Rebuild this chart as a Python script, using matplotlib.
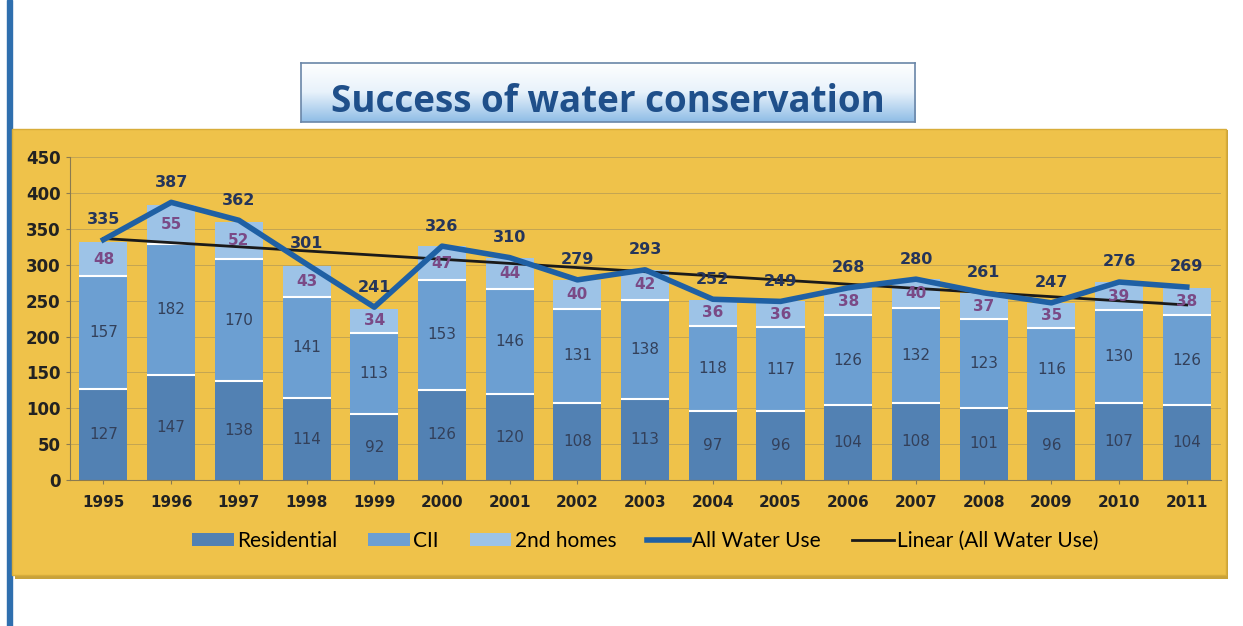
import numpy as np
import matplotlib
matplotlib.use('Agg')
import matplotlib.pyplot as plt
from matplotlib.patches import Rectangle
from matplotlib.colors import LinearSegmentedColormap

years = ['1995', '1996', '1997', '1998', '1999', '2000', '2001', '2002', '2003',
         '2004', '2005', '2006', '2007', '2008', '2009', '2010', '2011']
residential = [127, 147, 138, 114, 92, 126, 120, 108, 113, 97, 96, 104, 108, 101, 96, 107, 104]
cii = [157, 182, 170, 141, 113, 153, 146, 131, 138, 118, 117, 126, 132, 123, 116, 130, 126]
second_homes = [48, 55, 52, 43, 34, 47, 44, 40, 42, 36, 36, 38, 40, 37, 35, 39, 38]
all_water = [335, 387, 362, 301, 241, 326, 310, 279, 293, 252, 249, 268, 280, 261, 247, 276, 269]

yellow = '#efc24a'
c_res = '#5281b3'
c_cii = '#6c9fd2'
c_sec = '#9dc3e7'
c_line = '#1f60a4'

fig = plt.figure(figsize=(12.43, 6.26), dpi=100)
fig.patch.set_facecolor('white')

# slide edge on the left
fig.patches.append(Rectangle((0.006, 0.0), 0.004, 1.0, transform=fig.transFigure,
                             color='#2f6fae', zorder=-2))
# yellow chart panel with a little shadow
fig.patches.append(Rectangle((0.012, 0.075), 0.976, 0.718, transform=fig.transFigure,
                             facecolor='#c9a23a', edgecolor='none', zorder=-2))
fig.patches.append(Rectangle((0.010, 0.082), 0.976, 0.712, transform=fig.transFigure,
                             facecolor=yellow, edgecolor='#d8ad3a', lw=1, zorder=-1))

# title box with gradient
tax = fig.add_axes([0.242, 0.805, 0.494, 0.095])
grad = np.linspace(0, 1, 100).reshape(-1, 1)
cmap = LinearSegmentedColormap.from_list('t', ['#ffffff', '#e8f2fb', '#8fbde6'])
tax.imshow(grad, aspect='auto', cmap=cmap, extent=[0, 1, 0, 1], origin='upper')
tax.set_xticks([])
tax.set_yticks([])
for s in tax.spines.values():
    s.set_color('#6a86a8')
    s.set_linewidth(1.2)
tax.text(0.5, 0.33, 'Success of water conservation', ha='center', va='center',
         fontsize=26.5, fontweight='bold', color='#1f4f8a', family='Open Sans')

ax = fig.add_axes([0.056, 0.233, 0.926, 0.516])
ax.set_facecolor('none')
x = np.arange(len(years))
w = 0.71
res = np.array(residential)
ci = np.array(cii)
sh = np.array(second_homes)
b1 = ax.bar(x, res, w, color=c_res, linewidth=0, label='Residential', zorder=2)
b2 = ax.bar(x, ci, w, bottom=res, color=c_cii, linewidth=0, label='CII', zorder=2)
b3 = ax.bar(x, sh, w, bottom=res + ci, color=c_sec, linewidth=0, label='2nd homes', zorder=2)
# white separators between the stacked segments
ax.hlines(res, x - w / 2, x + w / 2, color='white', lw=1.5, zorder=2.5)
ax.hlines(res + ci, x - w / 2, x + w / 2, color='white', lw=1.5, zorder=2.5)

l1, = ax.plot(x, all_water, color=c_line, lw=4, label='All Water Use', zorder=4)
coef = np.polyfit(x, all_water, 1)
l2, = ax.plot(x, np.polyval(coef, x), color='#1a1a1a', lw=2, label='Linear (All Water Use)', zorder=3)

for i in range(len(x)):
    ax.text(x[i], res[i] / 2, str(res[i]), ha='center', va='center', fontsize=11, color='#33405a', zorder=5)
    ax.text(x[i], res[i] + ci[i] / 2, str(ci[i]), ha='center', va='center', fontsize=11, color='#33405a', zorder=5)
    ax.text(x[i], res[i] + ci[i] + sh[i] / 2, str(sh[i]), ha='center', va='center', fontsize=11,
            color='#7a4a86', fontweight='bold', zorder=5)
    ax.text(x[i], all_water[i] + 28, str(all_water[i]), ha='center', va='center', fontsize=11.5,
            color='#25355a', fontweight='bold', zorder=5)

ax.set_xlim(-0.5, len(years) - 0.5)
ax.set_ylim(0, 450)
ax.set_yticks(range(0, 451, 50))
ax.set_xticks(x)
ax.set_xticklabels(years, fontweight='bold', fontsize=11, color='#222222')
for lab in ax.get_yticklabels():
    lab.set_fontweight('bold')
    lab.set_fontsize(12)
    lab.set_color('#222222')
ax.tick_params(axis='both', length=3, color='#8a7a50')
ax.tick_params(axis='x', pad=8)
ax.grid(axis='y', color='#9a8a5a', lw=0.6, alpha=0.6, zorder=0)
ax.set_axisbelow(True)
for s in ['top', 'right']:
    ax.spines[s].set_visible(False)
ax.spines['left'].set_color('#8a7a50')
ax.spines['bottom'].set_color('#8a7a50')

ax.legend([b1, b2, b3, l1, l2],
          ['Residential', 'CII', '2nd homes', 'All Water Use', 'Linear (All Water Use)'],
          loc='upper center', bbox_to_anchor=(0.5, -0.1), ncol=5, frameon=False,
          handlelength=2.0, handleheight=0.6, handletextpad=0.15, columnspacing=1.5,
          prop={'family': 'Lato', 'size': 15})

fig.savefig('out.png', dpi=100, facecolor=fig.get_facecolor())
